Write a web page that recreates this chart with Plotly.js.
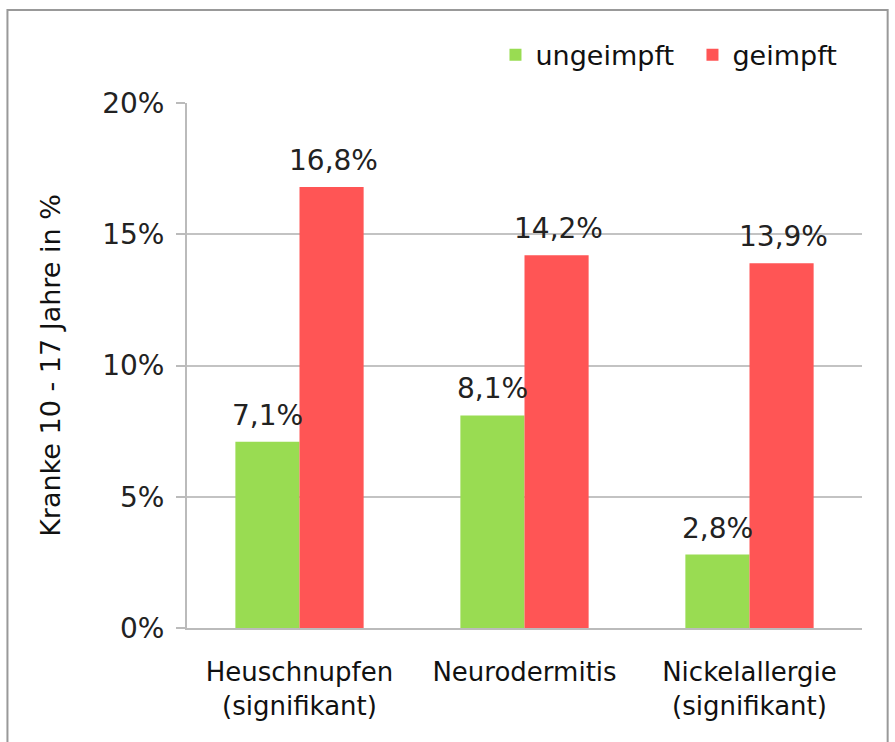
<!DOCTYPE html>
<html><head><meta charset="utf-8">
<script src="https://cdn.plot.ly/plotly-3.0.1.min.js"></script>
<style>body{margin:0;background:#fff}#c{width:895px;height:742px}</style>
</head><body><div id="c"></div>
<script>
const categories = ["Heuschnupfen<br>(signifikant)", "Neurodermitis", "Nickelallergie<br>(signifikant)"];
const seriesNames = ["ungeimpft", "geimpft"];
const ungeimpft = [7.1, 8.1, 2.8];
const geimpft = [16.8, 14.2, 13.9];
const tickVals = [0, 5, 10, 15, 20];
const tickText = ["0%", "5%", "10%", "15%", "20%"];
const colors = ["#99DC52", "#FF5555"];

const fmt = v => v.toFixed(1).replace(".", ",") + "%";
const valFont = {family: "DejaVu Sans", size: 28, color: "#222"};

const traces = [ungeimpft, geimpft].map((vals, i) => ({
  type: "bar", name: seriesNames[i], x: categories, y: vals,
  marker: {color: colors[i]}, hoverinfo: "none"
}));

const annotations = [];
[ungeimpft, geimpft].forEach((vals, i) => {
  vals.forEach((v, j) => {
    annotations.push({x: categories[j], y: v, xref: "x", yref: "y", text: fmt(v),
      showarrow: false, yanchor: "bottom", xshift: i === 0 ? -32 : 34, yshift: 8, font: valFont});
  });
});

const layout = {
  width: 895, height: 742,
  margin: {l: 187, r: 33, t: 103, b: 114, autoexpand: false},
  paper_bgcolor: "#fff", plot_bgcolor: "#fff",
  barmode: "group", bargap: 0.43, bargroupgap: 0,
  showlegend: true,
  legend: {orientation: "h", x: 0.457, y: 1.091, xanchor: "left", yanchor: "middle", bgcolor: "rgba(0,0,0,0)",
    font: {family: "DejaVu Sans", size: 27, color: "#111"}, itemwidth: 30, entrywidth: 152, traceorder: "normal"},
  xaxis: {type: "category", showgrid: false, showline: true, linecolor: "#bbb", linewidth: 2,
    ticks: "", ticklabelstandoff: 20, tickfont: {family: "DejaVu Sans", size: 26, color: "#111"}, fixedrange: true},
  yaxis: {range: [0, 20], tickvals: tickVals, ticktext: tickText, showgrid: true, gridcolor: "#c3c3c3", gridwidth: 2,
    showline: true, linecolor: "#bbb", linewidth: 2, ticks: "outside", ticklen: 9, tickcolor: "#bbb", tickwidth: 2,
    ticklabelstandoff: 6, zeroline: false,
    tickfont: {family: "DejaVu Sans", size: 28, color: "#222"},
    title: {text: "Kranke 10 - 17 Jahre in %", font: {family: "DejaVu Sans", size: 27, color: "#111"}, standoff: 34},
    fixedrange: true},
  annotations: annotations,
  shapes: [{type: "rect", xref: "paper", yref: "paper", x0: -0.266, x1: 1.038, y0: -0.22, y1: 1.177,
    line: {color: "#999", width: 2}, fillcolor: "rgba(0,0,0,0)", layer: "below"}]
};
Plotly.newPlot("c", traces, layout, {displayModeBar: false, staticPlot: true});
</script></body></html>
